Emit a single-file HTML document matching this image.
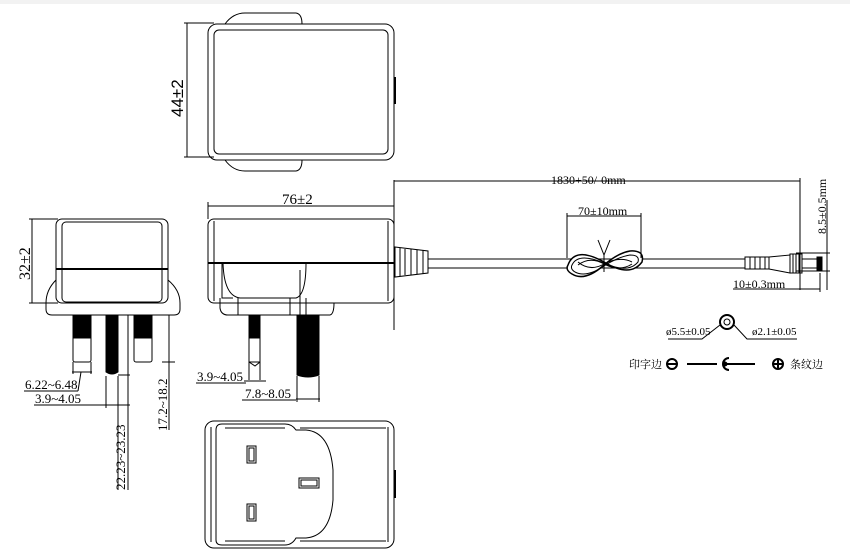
<!DOCTYPE html>
<html><head><meta charset="utf-8"><style>
html,body{margin:0;padding:0;background:#fff;}
svg{display:block;}
text{font-family:"Liberation Serif","Noto Serif CJK SC",serif;fill:#000;}
</style></head><body>
<svg width="850" height="560" viewBox="0 0 850 560" xmlns="http://www.w3.org/2000/svg">
<rect width="850" height="560" fill="#fff"/>
<rect x="0" y="0" width="850" height="4" fill="#f2f2f2"/>
<g fill="none" stroke="#000" stroke-width="1">
<!-- Top view -->
<path d="M225,24 Q233,13 245,13 L296,13 Q302,14 302,24"/>
<path d="M225,160 Q233,171 245,171 L296,171 Q302,170 302,160"/>
<rect x="208" y="24" width="186" height="136" rx="9"/>
<rect x="214" y="30" width="174" height="124" rx="5"/>
<line x1="395" y1="77" x2="395" y2="104" stroke-width="2"/>
<line x1="187" y1="23" x2="187" y2="157"/>
<line x1="184" y1="23" x2="214" y2="23"/>
<line x1="184" y1="157" x2="214" y2="157"/>

<!-- Side view left -->
<rect x="56" y="219" width="112" height="84" rx="6"/>
<rect x="62" y="222" width="100" height="80" rx="4"/>
<line x1="56" y1="269" x2="168" y2="269" stroke-width="2"/>
<path d="M56,280 Q46,290 46,303 L46,309 Q46,315 52,315 L174,315 Q180,315 180,309 L180,303 Q180,290 168,280"/>
<line x1="32" y1="219" x2="32" y2="303"/>
<line x1="29" y1="219" x2="58" y2="219"/>
<line x1="29" y1="303" x2="58" y2="303"/>
<rect x="73" y="315" width="18" height="47" rx="2"/>
<rect x="134" y="315" width="18" height="47" rx="2"/>
<rect x="73" y="315" width="18" height="23" fill="#000"/>
<rect x="134" y="315" width="18" height="23" fill="#000"/>
<path d="M106,315 L118,315 L118,372 Q112,376 106,372 Z" fill="#000"/>
<line x1="169" y1="315" x2="169" y2="430"/>
<line x1="162" y1="362" x2="175" y2="362"/>
<line x1="128" y1="315" x2="128" y2="490"/>
<line x1="118" y1="375" x2="130" y2="375"/>
<line x1="106" y1="376" x2="106" y2="408"/>
<line x1="118" y1="376" x2="118" y2="490"/>
<line x1="73" y1="362" x2="73" y2="374"/>
<line x1="91" y1="362" x2="91" y2="374"/>
<line x1="72" y1="372" x2="92" y2="372"/>
<line x1="24" y1="391" x2="78" y2="391"/>
<line x1="78" y1="391" x2="81" y2="372"/>
<line x1="34" y1="405" x2="130" y2="405"/>

<!-- Front view -->
<line x1="208" y1="206" x2="394" y2="206"/>
<line x1="208" y1="202" x2="208" y2="219"/>
<line x1="394" y1="180" x2="394" y2="330"/>
<rect x="208" y="219" width="186" height="84" rx="6"/>
<line x1="214" y1="221" x2="214" y2="301"/>
<line x1="388" y1="221" x2="388" y2="301"/>
<line x1="208" y1="263" x2="394" y2="263" stroke-width="2"/>
<path d="M222,263 L222,298 L233,298"/>
<path d="M223,263 Q224,296 240,298 L296,298 Q306,295 306,263"/>
<path d="M220,298 L220,308 Q221,315 228,315 L330,315 Q334,314 334,303"/>
<line x1="238" y1="298" x2="238" y2="315"/>
<line x1="290" y1="298" x2="290" y2="315"/>
<line x1="300" y1="270" x2="300" y2="315"/>
<line x1="306" y1="298" x2="306" y2="315"/>
<rect x="249" y="315" width="11" height="47"/>
<rect x="249" y="315" width="11" height="23" fill="#000"/>
<path d="M249,362 L255,366 L260,362 M249,362 L249,380 M260,362 L260,380"/>
<path d="M297,315 L319,315 L319,375 Q308,379 297,375 Z" fill="#000"/>
<line x1="297" y1="376" x2="297" y2="402"/>
<line x1="319" y1="376" x2="319" y2="402"/>
<line x1="244" y1="381" x2="266" y2="381"/>
<line x1="196" y1="383" x2="246" y2="383"/>
<line x1="296" y1="399" x2="320" y2="399"/>
<line x1="242" y1="400" x2="296" y2="400"/>

<!-- strain relief & cable -->
<path d="M395,247 L428,251 L428,273 L395,277 Z"/>
<line x1="400" y1="248" x2="400" y2="276"/><line x1="405" y1="249" x2="405" y2="275"/>
<line x1="411" y1="249" x2="411" y2="275"/><line x1="417" y1="250" x2="417" y2="274"/>
<line x1="423" y1="250" x2="423" y2="274"/>
<line x1="428" y1="259" x2="745" y2="259"/>
<line x1="428" y1="268" x2="745" y2="268"/>
<!-- knot -->
<path d="M568,265 Q575,246 604,262 Q630,278 642,262 Q645,250 630,251 Q618,253 604,265 Q585,282 572,274 Q565,270 568,265 Z" fill="#fff" stroke-width="1.5"/>
<path d="M572,265 Q578,252 604,263 Q628,274 638,262 Q640,255 630,255 Q618,257 604,266 Q586,278 575,272 Q570,269 572,265 Z"/>
<path d="M578,265 Q590,256 604,264 Q620,272 632,264"/>
<path d="M578,262 Q590,272 604,264 Q620,256 632,262"/>
<path d="M598,240 L604,255 L610,240 M604,255 L604,272"/>
<line x1="394" y1="181" x2="800" y2="181"/>
<line x1="800" y1="178" x2="800" y2="290"/>
<line x1="567" y1="216" x2="641" y2="216"/>
<line x1="567" y1="213" x2="567" y2="258"/>
<line x1="641" y1="213" x2="641" y2="258"/>
<!-- connector -->
<rect x="745" y="257" width="24" height="12"/>
<line x1="750" y1="257" x2="750" y2="269"/><line x1="755" y1="257" x2="755" y2="269"/>
<line x1="760" y1="257" x2="760" y2="269"/><line x1="765" y1="257" x2="765" y2="269"/>
<path d="M769,257 L790,255 L790,273 L769,269"/>
<rect x="790" y="254" width="12" height="19"/>
<line x1="793" y1="254" x2="793" y2="273"/><line x1="796" y1="254" x2="796" y2="273"/><line x1="799" y1="254" x2="799" y2="273"/>
<rect x="802" y="259" width="20" height="9"/>
<rect x="817" y="257" width="5" height="13" fill="#000"/>
<line x1="796" y1="253" x2="830" y2="253"/>
<line x1="796" y1="271" x2="830" y2="271"/>
<line x1="827" y1="200" x2="827" y2="290"/>
<line x1="733" y1="289" x2="820" y2="289"/>
<line x1="820" y1="273" x2="820" y2="292"/>
<!-- symbol -->
<circle cx="727" cy="322" r="7" stroke-width="2"/>
<circle cx="727" cy="322" r="3"/>
<path d="M668,339 L702,339 L720,325"/>
<path d="M734,325 L747,339 L797,339"/>
<circle cx="672" cy="364" r="5" stroke-width="2"/>
<line x1="668" y1="364" x2="676" y2="364" stroke-width="2"/>
<line x1="687" y1="364" x2="717" y2="364" stroke-width="2"/>
<path d="M729,358 A6,6 0 1 0 729,370" stroke-width="2"/>
<circle cx="725" cy="364" r="2" fill="#000"/>
<line x1="727" y1="364" x2="755" y2="364" stroke-width="2"/>
<circle cx="778" cy="364" r="5" stroke-width="2"/>
<line x1="773" y1="364" x2="783" y2="364" stroke-width="2"/>
<line x1="778" y1="359" x2="778" y2="369" stroke-width="2"/>

<!-- Bottom view -->
<rect x="205" y="421" width="189" height="127" rx="9"/>
<line x1="211" y1="427" x2="211" y2="542"/>
<line x1="388" y1="427" x2="388" y2="542"/>
<path d="M222,424 L285,424 Q292,424 296,430 L306,430 Q330,432 333,470 L333,500 Q330,536 306,538 L296,538 Q292,545 285,545 L222,545 Q216,545 216,540 L216,430 Q216,424 222,424 Z"/>
<line x1="225" y1="428" x2="285" y2="428"/>
<line x1="225" y1="541" x2="285" y2="541"/>
<line x1="300" y1="428" x2="386" y2="428"/>
<line x1="300" y1="541" x2="386" y2="541"/>
<line x1="395" y1="470" x2="395" y2="498" stroke-width="2"/>
<rect x="247" y="446" width="9" height="17"/><rect x="249" y="448" width="5" height="13"/>
<rect x="247" y="504" width="9" height="17"/><rect x="249" y="506" width="5" height="13"/>
<rect x="299" y="478" width="20" height="10"/><rect x="301" y="480" width="16" height="6"/>
</g>

<text x="0" y="0" font-size="17" fill="#5a4010" style="font-family:'Liberation Sans',sans-serif" transform="translate(183,117) rotate(-90)">44±2</text>
<text x="0" y="0" font-size="16" transform="translate(30,280) rotate(-90)">32±2</text>
<text x="282" y="204" font-size="15">76±2</text>
<text x="551" y="184" font-size="12">1830+50/-0mm</text>
<text x="578" y="215" font-size="12">70±10mm</text>
<text x="0" y="0" font-size="12" transform="translate(826,234) rotate(-90)">8.5±0.5mm</text>
<text x="733" y="288" font-size="12">10±0.3mm</text>
<text x="666" y="335" font-size="11">ø5.5±0.05</text>
<text x="752" y="335" font-size="11">ø2.1±0.05</text>
<text x="629" y="368" font-size="11">印字边</text>
<text x="790" y="368" font-size="11">条纹边</text>
<text x="25" y="389" font-size="13">6.22~6.48</text>
<text x="35" y="403" font-size="13">3.9~4.05</text>
<text x="197" y="381" font-size="13">3.9~4.05</text>
<text x="245" y="398" font-size="13">7.8~8.05</text>
<text x="0" y="0" font-size="13" transform="translate(167,431) rotate(-90)">17.2~18.2</text>
<text x="0" y="0" font-size="13" transform="translate(125,490) rotate(-90)">22.23~23.23</text>
</svg>
</body></html>
